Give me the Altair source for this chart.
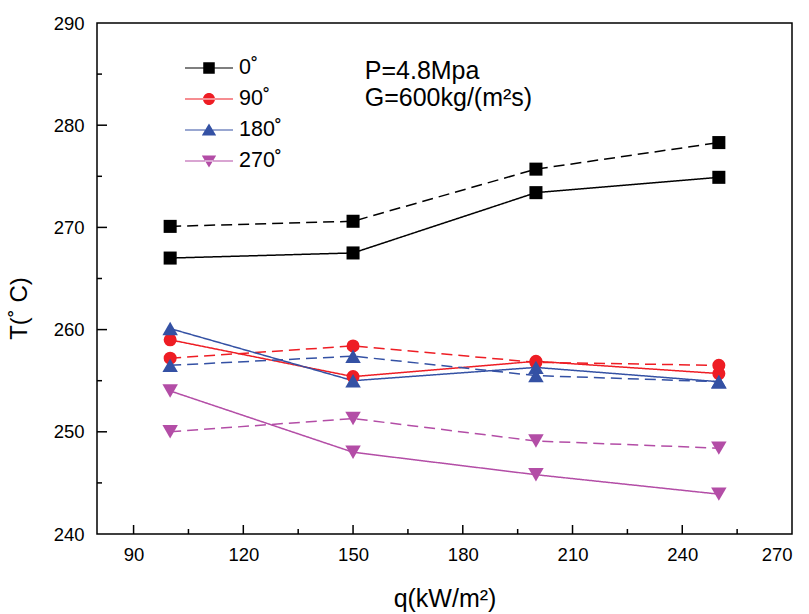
import altair as alt
import pandas as pd

q_values = [100, 150, 200, 250]
series_names = ["0˚", "90˚", "180˚", "270˚"]
series_colors = ["#000000", "#EE1D24", "#3451A4", "#B34DA6"]
series_shapes = ["square", "circle", "triangle-up", "triangle-down"]

t_0_solid = [267.0, 267.5, 273.4, 274.9]
t_0_dashed = [270.1, 270.6, 275.7, 278.3]
t_90_solid = [259.0, 255.4, 256.9, 255.7]
t_90_dashed = [257.2, 258.4, 256.8, 256.5]
t_180_solid = [260.1, 255.0, 256.3, 254.9]
t_180_dashed = [256.5, 257.4, 255.5, 254.9]
t_270_solid = [254.0, 248.0, 245.8, 243.9]
t_270_dashed = [250.0, 251.3, 249.1, 248.4]

x_ticks = [90, 120, 150, 180, 210, 240, 270]
x_minor = [105, 135, 165, 195, 225, 255]
y_ticks = [240, 250, 260, 270, 280, 290]
y_minor = [245, 255, 265, 275, 285]

annotations = ["P=4.8Mpa", "G=600kg/(m²s)"]
annot_q = [153.2, 153.2]
annot_t = [284.5, 281.85]

# legend symbols: thin bar (line) + marker, as filled custom paths
legend_paths = [
    "M-2,-0.05H2V0.05H-2ZM-0.48,-0.48H0.48V0.48H-0.48Z",
    "M-2,-0.05H2V0.05H-2ZM-0.5,0A0.5,0.5 0 1,0 0.5,0A0.5,0.5 0 1,0 -0.5,0Z",
    "M-2,-0.05H2V0.05H-2ZM0,-0.55L0.6,0.45L-0.6,0.45Z",
    "M-2,-0.05H2V0.05H-2ZM0,0.55L0.6,-0.45L-0.6,-0.45Z",
]

series_data = {
    "0˚": (t_0_solid, t_0_dashed),
    "90˚": (t_90_solid, t_90_dashed),
    "180˚": (t_180_solid, t_180_dashed),
    "270˚": (t_270_solid, t_270_dashed),
}
rows = []
for name in series_names:
    sol, das = series_data[name]
    for q, t in zip(q_values, sol):
        rows.append({"q": q, "T": t, "Series": name, "Type": "solid"})
    for q, t in zip(q_values, das):
        rows.append({"q": q, "T": t, "Series": name, "Type": "dashed"})
df = pd.DataFrame(rows)

W, H = 695, 511
FONT = "Liberation Sans"

xscale = alt.Scale(domain=[80, 270], nice=False, zero=False)
yscale = alt.Scale(domain=[240, 290], nice=False, zero=False)

x_enc = alt.X("q:Q", scale=xscale, axis=alt.Axis(
    values=x_ticks, tickSize=0, labelPadding=11, labelFontSize=18.5,
    title="q(kW/m²)", titleFontSize=25, titleY=72, titleBaseline="alphabetic"))
y_enc = alt.Y("T:Q", scale=yscale, axis=alt.Axis(
    values=y_ticks, tickSize=0, labelPadding=13, labelFontSize=18.5,
    title="T(˚ C)", titleFontSize=24, titleX=-71, titleY=285,
    titleBaseline="alphabetic", titleAngle=-90, titleAlign="center"))

base = alt.Chart(df)

# invisible carrier layer for the legend
leg = alt.Legend(
    title=None, orient="none", legendX=100, legendY=33, padding=0,
    symbolSize=576, symbolOpacity=1, symbolStrokeWidth=0,
    labelFontSize=21.5, labelFont=FONT, labelColor="black",
    labelOffset=18, rowPadding=8,
)
legend_layer = base.mark_point(filled=True, opacity=0).encode(
    x=x_enc, y=y_enc,
    color=alt.Color("Series:N", scale=alt.Scale(domain=series_names, range=series_colors), legend=leg),
    shape=alt.Shape("Series:N", scale=alt.Scale(domain=series_names, range=legend_paths), legend=leg),
)

dash_scale = alt.Scale(domain=["solid", "dashed"], range=[[1, 0], [11, 6]])
line_layers = []
point_layers = []
point_sizes = [170, 170, 240, 240]
for name, col, shp, sz in zip(series_names, series_colors, series_shapes, point_sizes):
    sub = base.transform_filter(alt.datum.Series == name)
    line_layers.append(
        sub.mark_line(strokeWidth=1.5, color=col).encode(
            x="q:Q", y="T:Q",
            strokeDash=alt.StrokeDash("Type:N", scale=dash_scale, legend=None),
            order="q:Q",
        )
    )
    point_layers.append(
        sub.mark_point(shape=shp, filled=True, size=sz, opacity=1, color=col).encode(
            x="q:Q", y="T:Q")
    )

xt_major = alt.Chart(pd.DataFrame({"v": x_ticks[:-1]})).mark_rule(
    color="black", strokeWidth=1.5).encode(
    x=alt.X("v:Q", scale=xscale), y=alt.value(H), y2=alt.value(H - 9))
xt_minor = alt.Chart(pd.DataFrame({"v": x_minor})).mark_rule(
    color="black", strokeWidth=1.5).encode(
    x=alt.X("v:Q", scale=xscale), y=alt.value(H), y2=alt.value(H - 5))
yt_major = alt.Chart(pd.DataFrame({"v": y_ticks[1:-1]})).mark_rule(
    color="black", strokeWidth=1.5).encode(
    y=alt.Y("v:Q", scale=yscale), x=alt.value(0), x2=alt.value(10))
yt_minor = alt.Chart(pd.DataFrame({"v": y_minor})).mark_rule(
    color="black", strokeWidth=1.5).encode(
    y=alt.Y("v:Q", scale=yscale), x=alt.value(0), x2=alt.value(5))

annot = alt.Chart(pd.DataFrame({"txt": annotations, "q": annot_q, "T": annot_t})).mark_text(
    align="left", baseline="alphabetic", fontSize=25, font=FONT, color="black").encode(
    x=alt.X("q:Q", scale=xscale), y=alt.Y("T:Q", scale=yscale), text="txt:N")

chart = alt.layer(
    legend_layer, *line_layers, *point_layers,
    xt_major, xt_minor, yt_major, yt_minor, annot
).properties(
    width=W, height=H,
    autosize=alt.AutoSizeParams(type="none"),
    padding={"left": 97, "top": 23, "right": 17, "bottom": 80},
    background="white",
).configure_view(
    stroke="black", strokeWidth=1.5
).configure_axis(
    domain=False, grid=False, labelFont=FONT, titleFont=FONT,
    labelColor="black", titleColor="black", titleFontWeight="normal",
)

chart.save("out.html", embed_options={"renderer": "svg", "actions": False})
